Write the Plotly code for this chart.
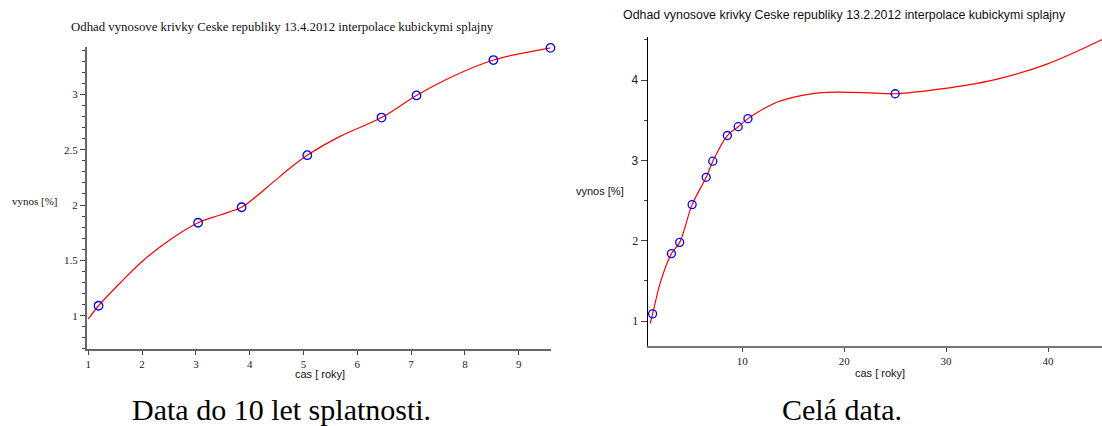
import plotly.graph_objects as go

W, H = 1102, 426

# ---- data ----
pts_t = [1.19, 3.04, 3.85, 5.07, 6.45, 7.10, 8.53, 9.59]
pts_y = [1.09, 1.84, 1.98, 2.45, 2.79, 2.99, 3.31, 3.42]

all_t = [1.19, 3.04, 3.85, 5.07, 6.45, 7.10, 8.53, 9.59, 10.55, 25.0]
all_y = [1.09, 1.84, 1.98, 2.45, 2.79, 2.99, 3.31, 3.42, 3.52, 3.83]

left_curve_t = [1.00, 1.19, 1.60, 2.00, 2.50, 3.04, 3.45, 3.85, 4.05, 4.42,
                4.79, 5.07, 5.68, 6.45, 7.10, 7.81, 8.53, 9.05, 9.59]
left_curve_y = [0.97, 1.09, 1.30, 1.49, 1.68, 1.84, 1.91, 1.98, 2.05, 2.20,
                2.35, 2.45, 2.62, 2.79, 2.99, 3.17, 3.31, 3.37, 3.42]

right_curve_t = [0.95, 1.19, 2.00, 3.04, 3.85, 5.07, 6.45, 7.10, 8.53, 9.59,
                 10.55, 11.5, 12.5, 13.5, 14.5, 15.9, 17.5, 19.3, 22.7, 25.0,
                 29.5, 34.6, 39.7, 45.4]
right_curve_y = [0.97, 1.09, 1.50, 1.84, 1.98, 2.45, 2.79, 2.99, 3.31, 3.42,
                 3.52, 3.60, 3.67, 3.73, 3.77, 3.81, 3.84, 3.85, 3.84, 3.83,
                 3.89, 4.00, 4.19, 4.51]

left_xticks = [1, 2, 3, 4, 5, 6, 7, 8, 9]
left_yticks = [1, 1.5, 2, 2.5, 3]
right_xticks = [10, 20, 30, 40]
right_yticks = [1, 2, 3, 4]

title_left = "Odhad vynosove krivky Ceske republiky 13.4.2012 interpolace kubickymi splajny"
title_right = "Odhad vynosove krivky Ceske republiky 13.2.2012 interpolace kubickymi splajny"
caption_left = "Data do 10 let splatnosti."
caption_right = "Celá data."

SERIF = "Liberation Serif"
SANS = "Liberation Sans"

def px(x):
    return x / W

def py(y):
    return 1 - y / H

fig = go.Figure()

fig.add_trace(go.Scatter(x=left_curve_t, y=left_curve_y, mode="lines",
                         line=dict(color="#ff0000", width=1.2, shape="spline", smoothing=1.0),
                         xaxis="x", yaxis="y", hoverinfo="skip"))
fig.add_trace(go.Scatter(x=pts_t, y=pts_y, mode="markers", cliponaxis=False,
                         marker=dict(symbol="circle-open", size=8.5, color="#0000ff",
                                     line=dict(width=1.3, color="#0000ff")),
                         xaxis="x", yaxis="y"))
fig.add_trace(go.Scatter(x=right_curve_t, y=right_curve_y, mode="lines",
                         line=dict(color="#ff0000", width=1.2, shape="spline", smoothing=1.0),
                         xaxis="x2", yaxis="y2", hoverinfo="skip"))
fig.add_trace(go.Scatter(x=all_t, y=all_y, mode="markers", cliponaxis=False,
                         marker=dict(symbol="circle-open", size=8, color="#0000ff",
                                     line=dict(width=1.3, color="#0000ff")),
                         xaxis="x2", yaxis="y2"))

right_ytext = []
for v in right_yticks:
    fam = SANS if v >= 3 else SERIF
    right_ytext.append(f"<span style='font-family:{fam}'>{v}</span>")

fig.update_layout(
    width=W, height=H,
    margin=dict(l=0, r=0, t=0, b=0),
    paper_bgcolor="white", plot_bgcolor="white",
    showlegend=False,
    xaxis=dict(domain=[px(86.7), px(551)], range=[0.97, 9.6], anchor="y",
               showgrid=False, zeroline=False, showline=True, linecolor="#666666", linewidth=1.5,
               ticks="outside", ticklen=4, tickwidth=1, tickcolor="#444444",
               tickvals=left_xticks, ticktext=[str(v) for v in left_xticks],
               tickfont=dict(family=SERIF, size=11, color="#222222")),
    yaxis=dict(domain=[py(348.9), py(47.3)], range=[0.70, 3.425], anchor="x",
               showgrid=False, zeroline=False, showline=True, linecolor="#666666", linewidth=1.5,
               ticks="outside", ticklen=5, tickwidth=1, tickcolor="#444444",
               tickvals=left_yticks, ticktext=[str(v) for v in left_yticks],
               tickfont=dict(family=SERIF, size=11, color="#222222"),
               minor=dict(dtick=0.1, tick0=0, ticks="outside", ticklen=3, tickcolor="#444444", showgrid=False)),
    xaxis2=dict(domain=[px(647.7), 1.0], range=[0.71, 45.3], anchor="y2",
                showgrid=False, zeroline=False, showline=True, linecolor="#777777", linewidth=1.5,
                ticks="outside", ticklen=4, tickwidth=1, tickcolor="#444444",
                tickvals=right_xticks, ticktext=[str(v) for v in right_xticks],
                tickfont=dict(family=SERIF, size=11, color="#222222")),
    yaxis2=dict(domain=[py(346), py(36.7)], range=[0.69, 4.54], anchor="x2",
                showgrid=False, zeroline=False, showline=True, linecolor="#000000", linewidth=1,
                ticks="outside", ticklen=6, tickwidth=1, tickcolor="#444444",
                tickvals=right_yticks, ticktext=right_ytext,
                tickfont=dict(family=SERIF, size=12, color="#222222"),
                minor=dict(dtick=0.5, tick0=0, ticks="outside", ticklen=3, tickcolor="#444444", showgrid=False)),
)

annots = [
    dict(text=title_left, x=px(282), y=py(27), font=dict(family=SERIF, size=12.8, color="#111111")),
    dict(text=title_right, x=px(844), y=py(15), font=dict(family=SANS, size=12.4, color="#111111")),
    dict(text="vynos [%]", x=px(35), y=py(201), font=dict(family=SERIF, size=11, color="#111111")),
    dict(text="vynos [%]", x=px(600), y=py(191), font=dict(family=SANS, size=11, color="#111111")),
    dict(text="cas [ roky]", x=px(320), y=py(374), font=dict(family=SANS, size=11, color="#111111")),
    dict(text="cas [ roky]", x=px(880), y=py(373), font=dict(family=SANS, size=11, color="#111111")),
    dict(text=caption_left, x=px(281), y=py(409), font=dict(family=SERIF, size=30, color="#000000")),
    dict(text=caption_right, x=px(842), y=py(409), font=dict(family=SERIF, size=30, color="#000000")),
]
for a in annots:
    fig.add_annotation(xref="paper", yref="paper", showarrow=False, borderpad=0,
                       xanchor="center", yanchor="middle", **a)

fig.write_html("out.html")
